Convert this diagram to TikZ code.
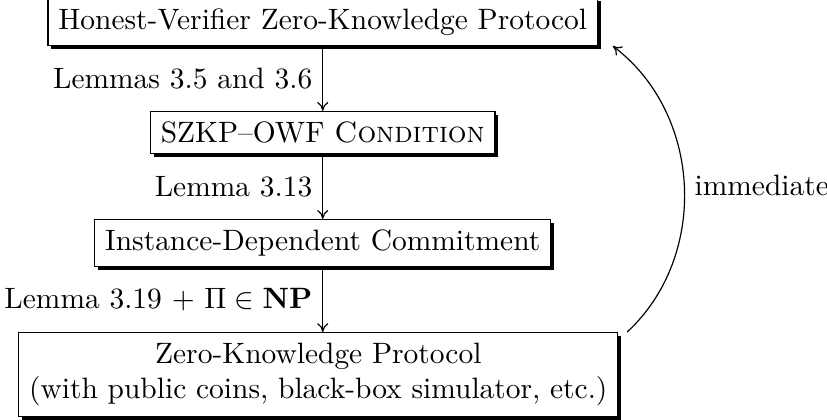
\documentclass[tikz,border=0pt]{standalone}
\usepackage{amssymb,amsmath}
\usetikzlibrary{positioning,shadows,arrows.meta}

\begin{document}
\begin{tikzpicture}[
  box/.style={draw, fill=white, inner sep=3.5pt, align=center,
    drop shadow={shadow xshift=1.1pt, shadow yshift=-1.2pt, opacity=1, fill=black}},
  >={Computer Modern Rightarrow[length=3pt, width=3.8pt]}, node distance=22pt
]
  \node [box] (hv) {Honest-Verifier Zero-Knowledge Protocol};
  \node [box, below = of hv] (owf) {SZKP--OWF \textsc{Condition}};
  \node [box, below = of owf] (idc) {Instance-Dependent Commitment};
  \node [box, below = of idc, xshift=-1.5pt] (zk) {Zero-Knowledge Protocol\\(with public coins, black-box simulator, etc.)};

  \draw [->] (hv) -- node [left] {Lemmas 3.5 and 3.6} (owf);
  \draw [->] (owf) -- node [left] {Lemma 3.13} (idc);
  \draw [->] (idc.south) -- node [left] {Lemma 3.19 $+$ $\Pi \in \mathbf{NP}$} (idc.south |- zk.north);
  \draw [->] ([xshift=3pt]zk.north east) to [bend right=50] node [right] {immediate} ([xshift=5pt]hv.south east);

  \pgfresetboundingbox
  \path ([xshift=70.8pt]zk.east) coordinate (r) ([yshift=-0.9pt]hv.north) coordinate (t);
  \useasboundingbox ([xshift=-6.2pt, yshift=-1pt]zk.south west) rectangle (r |- t);
\end{tikzpicture}
\end{document}
